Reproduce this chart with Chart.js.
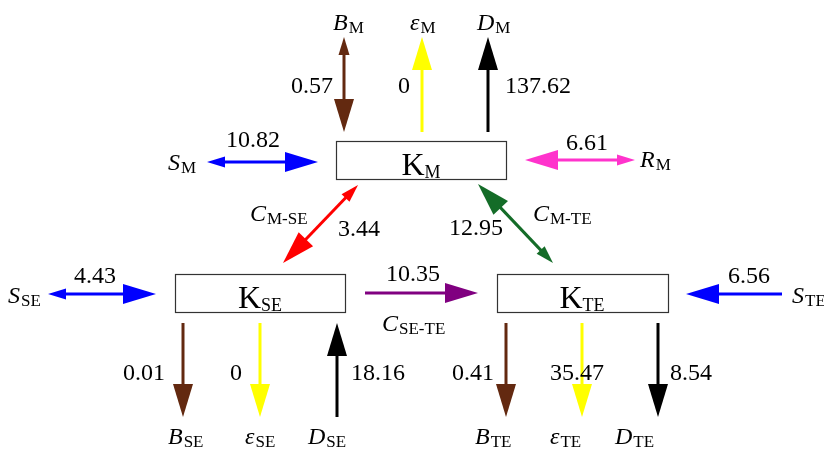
<!DOCTYPE html>
<html>
<head>
<meta charset="utf-8">
<script src="https://cdn.jsdelivr.net/npm/chart.js@4/dist/chart.umd.min.js"></script>
<style>
    html, body { margin: 0; padding: 0; background: #fff; }
</style>
</head>
<body>
<canvas id="flowChart" width="824" height="449"></canvas>
<script>
// compartments
const nodeNames = ['K', 'K', 'K'];
const nodeSubs = ['M', 'SE', 'TE'];

// flows (name, subscript, value)
const flowNames = ['B', 'ε', 'D', 'S', 'R', 'C', 'C', 'S', 'C', 'S', 'B', 'ε', 'D', 'B', 'ε', 'D'];
const flowSubs = ['M', 'M', 'M', 'M', 'M', 'M-SE', 'M-TE', 'SE', 'SE-TE', 'TE', 'SE', 'SE', 'SE', 'TE', 'TE', 'TE'];
const flowValues = [0.57, 0, 137.62, 10.82, 6.61, 3.44, 12.95, 4.43, 10.35, 6.56, 0.01, 0, 18.16, 0.41, 35.47, 8.54];

// styling
const flowColors = ['#632910', '#ffff00', '#000000', '#0000ff', '#ff33cc', '#ff0000', '#146c28', '#0000ff',
    '#800080', '#0000ff', '#632910', '#ffff00', '#000000', '#632910', '#ffff00', '#000000'];
const flowDouble = [true, false, false, true, true, true, true, true, false, false, false, false, false, false, false, false];

// layout in chart units
const nodeBoxes = [[336, 141, 506, 179], [175, 274, 345, 312], [497, 274, 668, 312]];
const nodeLabelPos = [[421, 175], [260, 308], [582, 308]];
// [x1, y1, x2, y2], big head at (x2, y2)
const flowPaths = [
    [344, 37, 344, 132], [422, 132, 422, 37], [488, 132, 488, 37],
    [207, 162, 318, 162], [635, 160, 525, 160],
    [358, 185, 283, 263], [553, 263, 478, 184],
    [48, 294, 156, 294], [365, 293, 478, 293], [782, 294, 686, 294],
    [183, 323, 183, 417], [260, 323, 260, 417], [337, 417, 337, 323],
    [506, 323, 506, 417], [582, 323, 582, 417], [658, 323, 658, 417]
];
const valuePos = [
    [312, 93], [404, 93], [538, 93], [253, 147], [587, 150], [359, 236], [476, 235],
    [95, 283], [413, 281], [749, 283], [144, 380], [236, 380], [378, 380], [473, 380], [577, 380], [691, 380]
];
const namePos = [
    [333, 30], [410, 30], [477, 30], [168, 170], [640, 167], [250, 221], [533, 221],
    [8, 303], [382, 331], [792, 303], [168, 444], [245, 444], [308, 444], [475, 444], [550, 444], [615, 444]
];

const serif = '"Liberation Serif", "Times New Roman", serif';

function drawHead(ctx, x, y, ang, len, wid, color) {
    ctx.save();
    ctx.translate(x, y);
    ctx.rotate(ang);
    ctx.beginPath();
    ctx.moveTo(0, 0);
    ctx.lineTo(-len, -wid / 2);
    ctx.lineTo(-len, wid / 2);
    ctx.closePath();
    ctx.fillStyle = color;
    ctx.fill();
    ctx.restore();
}

function drawSubText(ctx, x, y, main, sub, mainSize, subSize, italic, align) {
    ctx.font = (italic ? 'italic ' : '') + mainSize + 'px ' + serif;
    const w1 = ctx.measureText(main).width;
    ctx.font = subSize + 'px ' + serif;
    const w2 = ctx.measureText(sub).width;
    let left = x;
    if (align === 'center') left = x - (w1 + w2) / 2;
    ctx.fillStyle = '#000';
    ctx.textAlign = 'left';
    ctx.textBaseline = 'alphabetic';
    ctx.font = (italic ? 'italic ' : '') + mainSize + 'px ' + serif;
    ctx.fillText(main, left, y);
    ctx.font = subSize + 'px ' + serif;
    ctx.fillText(sub, left + w1 + (italic ? 1 : 0), y + 3);
}

const flowPlugin = {
    id: 'flowDiagram',
    afterDatasetsDraw(chart) {
        const ctx = chart.ctx;
        const sx = chart.scales.x, sy = chart.scales.y;
        const px = v => sx.getPixelForValue(v);
        const py = v => sy.getPixelForValue(v);

        // boxes
        nodeBoxes.forEach((b, i) => {
            const x1 = px(b[0]), y1 = py(b[1]), x2 = px(b[2]), y2 = py(b[3]);
            ctx.fillStyle = '#fff';
            ctx.fillRect(x1, y1, x2 - x1, y2 - y1);
            ctx.strokeStyle = '#333';
            ctx.lineWidth = 1.2;
            ctx.strokeRect(x1 + 0.5, y1 + 0.5, x2 - x1, y2 - y1);
            const p = nodeLabelPos[i];
            drawSubText(ctx, px(p[0]), py(p[1]), nodeNames[i], nodeSubs[i], 32, 18, false, 'center');
        });

        // arrows
        flowPaths.forEach((p, i) => {
            const x1 = px(p[0]), y1 = py(p[1]), x2 = px(p[2]), y2 = py(p[3]);
            const ang = Math.atan2(y2 - y1, x2 - x1);
            const bigLen = 33, bigWid = 20, smLen = 18, smWid = 11;
            const cos = Math.cos(ang), sin = Math.sin(ang);
            const s0 = flowDouble[i] ? smLen * 0.7 : 0;
            ctx.beginPath();
            ctx.moveTo(x1 + cos * s0, y1 + sin * s0);
            ctx.lineTo(x2 - cos * bigLen * 0.8, y2 - sin * bigLen * 0.8);
            ctx.strokeStyle = flowColors[i];
            ctx.lineWidth = 3;
            ctx.stroke();
            drawHead(ctx, x2, y2, ang, bigLen, bigWid, flowColors[i]);
            if (flowDouble[i]) drawHead(ctx, x1, y1, ang + Math.PI, smLen, smWid, flowColors[i]);

            // value
            const v = valuePos[i];
            ctx.font = '24px ' + serif;
            ctx.fillStyle = '#000';
            ctx.textAlign = 'center';
            ctx.textBaseline = 'alphabetic';
            ctx.fillText(String(flowValues[i]), px(v[0]), py(v[1]));

            // name
            const n = namePos[i];
            drawSubText(ctx, px(n[0]), py(n[1]), flowNames[i], flowSubs[i], 24, 17, true, 'left');
        });
    }
};

new Chart(document.getElementById('flowChart').getContext('2d'), {
    type: 'scatter',
    data: {
        datasets: [{
            data: nodeLabelPos.map(p => ({ x: p[0], y: p[1] })),
            pointRadius: 0
        }]
    },
    options: {
        responsive: false,
        animation: false,
        layout: { padding: 0 },
        plugins: { legend: { display: false }, tooltip: { enabled: false } },
        scales: {
            x: { type: 'linear', min: 0, max: 824, display: false },
            y: { type: 'linear', min: 0, max: 449, reverse: true, display: false }
        }
    },
    plugins: [flowPlugin]
});
</script>
</body>
</html>
